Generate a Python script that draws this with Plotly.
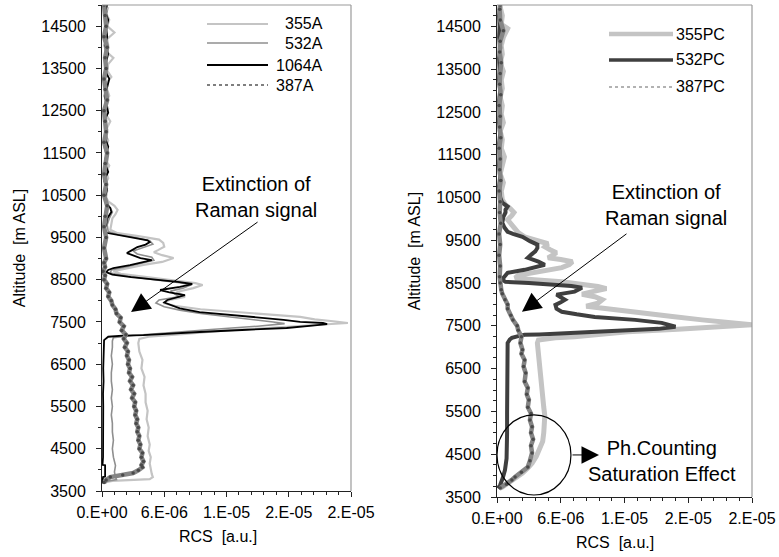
import numpy as np
import plotly.graph_objects as go

# ---------------- DATA (RCS values in units of 1e-6 a.u., altitude in m ASL) ----------------
A355_alt = [3690, 3740, 3780, 3830, 3900, 4000, 4150, 4300, 4450, 4600, 4800, 5000, 5200, 5400, 5600,
            5800, 6000, 6200, 6400, 6600, 6800, 7000, 7100, 7150, 7180, 7220, 7300, 7380, 7440, 7475,
            7510, 7560, 7620, 7680, 7735, 7800, 7880, 7950, 8020, 8090, 8150, 8210, 8300, 8375, 8420,
            8480, 8560, 8640, 8700, 8780, 8850, 8920, 9013, 9080, 9150, 9200, 9280, 9370, 9450, 9530,
            9600, 9680, 9800, 9950, 10050, 10150, 10250, 10350, 10450, 10600, 10750, 10900, 11050, 11200,
            11350, 11500, 11650, 11800, 11950, 12100, 12250, 12400, 12550, 12700, 12850, 13000, 13150,
            13300, 13450, 13600, 13750, 13900, 14050, 14200, 14350, 14500, 14650, 14800, 14950]
A355_val = [0.0, 1.0, 4.6, 4.9, 4.8, 4.7, 4.6, 4.7, 4.5, 4.6, 4.4, 4.5, 4.3, 4.4, 4.2,
            4.2, 4.0, 4.1, 3.8, 3.9, 3.6, 3.5, 3.6, 4.5, 6.5, 8.0, 12.0, 17.5, 22.0, 23.7,
            22.5, 20.5, 19.1, 16.0, 12.6, 9.5, 7.0, 5.9, 6.5, 8.0, 7.6, 7.2, 8.8, 9.7, 9.0,
            7.0, 4.0, 1.8, 1.1, 2.5, 4.0, 5.8, 6.9, 5.8, 5.0, 5.4, 6.0, 5.9, 5.5, 3.5,
            1.5, 0.8, 0.9, 1.0, 1.3, 1.5, 1.2, 0.6, 0.4, 0.5, 0.3, 0.6, 0.4, 0.7,
            0.3, 0.5, 0.4, 0.6, 0.3, 0.5, 0.8, 0.4, 0.6, 0.3, 0.7, 0.5, 0.4,
            0.9, 0.5, 0.6, 1.1, 0.4, 0.6, 0.5, 1.2, 0.5, 0.7, 0.4, 0.6]

A532_alt = [3690, 3730, 3770, 3830, 3950, 4100, 4300, 4500, 4700, 4900, 5100, 5300, 5500, 5700, 5900,
            6100, 6300, 6500, 6700, 6900, 7050, 7130, 7180, 7240, 7320, 7400, 7460, 7500, 7560, 7630,
            7700, 7780, 7860, 7950, 8020, 8100, 8160, 8230, 8300, 8380, 8430, 8500, 8580, 8660, 8730,
            8800, 8880, 8960, 9030, 9110, 9180, 9260, 9340, 9420, 9500, 9570, 9640, 9800, 9950, 10100,
            10200, 10300, 10450, 10650, 10850, 11050, 11250, 11450, 11650, 11850, 12050, 12250, 12450,
            12650, 12850, 13050, 13250, 13450, 13650, 13850, 14050, 14250, 14450, 14650, 14850, 15000]
A532_val = [0.0, 0.5, 1.4, 1.3, 1.2, 1.3, 1.1, 1.0, 1.1, 1.0, 1.0, 0.9, 1.0, 0.9, 1.0,
            0.9, 0.9, 1.0, 0.9, 1.0, 1.0, 1.1, 3.0, 6.0, 10.5, 15.0, 17.6, 16.5, 14.5, 12.0,
            9.5, 7.5, 6.0, 5.2, 5.5, 7.5, 7.0, 6.6, 7.8, 8.6, 7.5, 5.0, 2.5, 0.8, 0.9,
            2.3, 3.8, 5.0, 4.8, 3.4, 3.0, 4.0, 4.9, 4.6, 3.2, 1.5, 0.6, 0.5, 0.7, 1.0,
            0.8, 0.5, 0.3, 0.4, 0.2, 0.5, 0.3, 0.4, 0.2, 0.5, 0.3, 0.4, 0.3,
            0.5, 0.2, 0.4, 0.3, 0.5, 0.3, 0.4, 0.2, 0.5, 0.4, 0.3, 0.5, 0.3]

A1064_alt = [3690, 3720, 3830, 3840, 4110, 4120, 4300, 4600, 4900, 5200, 5500, 5800, 6100, 6400, 6700,
             7000, 7070, 7150, 7175, 7190, 7230, 7262, 7310, 7357, 7420, 7450, 7475, 7500, 7550, 7590,
             7660, 7735, 7820, 7900, 7960, 8020, 8080, 8137, 8200, 8256, 8330, 8398, 8450, 8500, 8560,
             8620, 8680, 8730, 8776, 8847, 8910, 8965, 9013, 9070, 9130, 9200, 9273, 9330, 9390, 9430,
             9462, 9510, 9557, 9610, 9680, 9800, 9950, 10100, 10200, 10300, 10450, 10650, 10850, 11050,
             11250, 11450, 11650, 11850, 12050, 12250, 12450, 12650, 12850, 13050, 13250, 13450, 13650,
             13850, 14050, 14250, 14450, 14650, 14850, 15000]
A1064_val = [0.0, 0.05, 0.1, 0.3, 0.3, 0.05, 0.1, 0.12, 0.1, 0.15, 0.12, 0.1, 0.15, 0.12, 0.15,
             0.2, 0.2, 0.6, 2.0, 4.0, 6.5, 9.4, 13.5, 17.8, 20.5, 21.7, 21.3, 19.1, 17.5, 15.9,
             12.5, 9.4, 7.5, 6.6, 6.0, 6.3, 7.2, 8.0, 6.5, 5.6, 7.5, 8.7, 7.3, 5.0, 2.8,
             1.0, 0.4, 0.6, 1.1, 2.7, 3.8, 4.8, 3.7, 3.0, 2.4, 2.9, 3.4, 4.2, 4.6, 4.4,
             3.7, 2.5, 1.4, 0.4, 0.2, 0.4, 0.5, 0.9, 0.8, 0.4, 0.3, 0.5, 0.2, 0.6,
             0.3, 0.4, 0.6, 0.3, 0.5, 0.2, 0.6, 0.4, 0.3, 0.5, 0.7, 0.3, 0.4,
             0.6, 0.3, 0.5, 0.4, 0.6, 0.3, 0.5]

A387_alt = [3700, 3760, 3830, 3880, 3925, 3990, 4060, 4115, 4200, 4300, 4400, 4500, 4600, 4700, 4800,
            4900, 5000, 5100, 5200, 5300, 5400, 5500, 5600, 5700, 5800, 5900, 6000, 6100, 6200, 6300,
            6400, 6500, 6600, 6700, 6800, 6900, 7000, 7100, 7200, 7300, 7400, 7500, 7600, 7700, 7800,
            7900, 8000, 8100, 8200, 8300, 8400, 8500, 8600, 8700, 8800, 8900, 9000, 9250, 9500, 9750,
            10000, 10250, 10500, 10750, 11000, 11250, 11500, 11750, 12000, 12250, 12500, 12750, 13000,
            13250, 13500, 13750, 14000, 14250, 14500, 14750, 15000]
A387_val = [0.2, 0.4, 0.8, 2.0, 3.0, 3.5, 3.9, 3.8, 4.0, 3.8, 3.9, 3.6, 3.7, 3.5, 3.6,
            3.4, 3.5, 3.3, 3.4, 3.2, 3.3, 3.1, 3.2, 2.9, 3.1, 2.8, 3.0, 2.7, 2.9, 2.6,
            2.7, 2.5, 2.6, 2.4, 2.5, 2.2, 2.4, 2.1, 2.3, 1.9, 2.1, 1.7, 1.8, 1.4, 1.3,
            1.0, 0.9, 0.6, 0.7, 0.4, 0.5, 0.2, 0.3, 0.1, 0.3, 0.2, 0.4, 0.2, 0.4, 0.2,
            0.3, 0.5, 0.2, 0.4, 0.2, 0.3, 0.5, 0.2, 0.4, 0.3, 0.2, 0.5, 0.3,
            0.2, 0.4, 0.3, 0.5, 0.2, 0.4, 0.3, 0.2]

PC355_alt = [3700, 3735, 3850, 3950, 4060, 4180, 4290, 4450, 4600, 4800, 5000, 5230, 5400, 5600, 5840,
             6000, 6200, 6470, 6700, 6940, 7100, 7170, 7220, 7245, 7300, 7360, 7420, 7480, 7525, 7560,
             7600, 7640, 7720, 7800, 7860, 7920, 7960, 8030, 8110, 8180, 8240, 8300, 8370, 8420, 8480,
             8530, 8580, 8620, 8680, 8740, 8800, 8860, 8930, 9000, 9050, 9090, 9150, 9210, 9280, 9350,
             9420, 9500, 9580, 9680, 9800, 9900, 9980, 10080, 10150, 10230, 10330, 10450, 10650, 10850,
             11050, 11250, 11450, 11650, 11850, 12050, 12250, 12450, 12650, 12850, 13050, 13250, 13450,
             13650, 13850, 14050, 14250, 14450, 14550, 14750, 14950]
PC355_val = [0.2, 0.5, 1.2, 1.8, 2.4, 2.9, 3.3, 3.7, 4.0, 4.3, 4.4, 4.5, 4.5, 4.4, 4.3,
             4.2, 4.1, 4.0, 3.9, 3.8, 3.8, 3.9, 5.5, 7.3, 10.0, 12.3, 17.0, 21.5, 24.0, 22.5,
             20.5, 19.3, 16.5, 13.6, 11.0, 9.2, 8.4, 9.5, 9.9, 9.2, 8.0, 9.0, 10.3, 9.5, 7.8,
             6.1, 3.5, 1.7, 2.0, 3.3, 4.8, 6.1, 6.8, 7.1, 6.0, 4.8, 5.2, 5.6, 5.0, 4.5,
             4.8, 3.5, 2.6, 2.0, 1.6, 1.2, 1.0, 1.4, 1.6, 1.3, 0.8, 0.5, 0.4, 0.6,
             0.3, 0.5, 0.7, 0.4, 0.5, 0.3, 0.6, 0.4, 0.5, 0.3, 0.5, 0.4, 0.6,
             0.3, 0.5, 0.4, 0.6, 1.0, 0.4, 0.5, 0.3]

PC532_alt = [3700, 3780, 3950, 4130, 4400, 4670, 5000, 5465, 5800, 6240, 6600, 6870, 7000, 7100, 7180,
             7220, 7260, 7290, 7300, 7320, 7360, 7430, 7480, 7530, 7570, 7640, 7710, 7770, 7830, 7900,
             7990, 8050, 8110, 8170, 8230, 8300, 8390, 8430, 8460, 8500, 8530, 8580, 8620, 8700, 8740,
             8810, 8880, 8930, 9000, 9050, 9090, 9160, 9240, 9320, 9400, 9480, 9580, 9650, 9700, 9800,
             9910, 10050, 10150, 10215, 10290, 10380, 10500, 10750, 11000, 11250, 11500, 11750, 12000,
             12250, 12500, 12750, 13000, 13250, 13500, 13750, 14000, 14250, 14500, 14750, 15000]
PC532_val = [0.1, 0.3, 0.55, 0.75, 0.9, 0.95, 0.95, 0.95, 0.95, 0.95, 0.95, 0.95, 1.0, 1.0, 1.2,
             1.4, 2.0, 2.6, 4.0, 6.0, 9.9, 15.2, 16.8, 16.0, 15.5, 13.0, 9.2, 7.5, 6.1, 5.6,
             5.5, 6.0, 6.4, 6.0, 5.6, 7.3, 8.0, 7.0, 5.6, 3.0, 0.8, 0.5, 0.6, 0.8, 1.0,
             2.6, 3.6, 4.5, 3.9, 3.3, 2.9, 3.2, 3.6, 3.8, 3.8, 3.1, 2.4, 1.5, 1.0, 0.7,
             0.5, 0.6, 0.8, 0.8, 1.0, 0.5, 0.3, 0.2, 0.3, 0.2, 0.25, 0.2, 0.3,
             0.2, 0.25, 0.2, 0.3, 0.2, 0.25, 0.2, 0.3, 0.2, 0.25, 0.2, 0.3]

PC387_alt = [3710, 3800, 3900, 3970, 4080, 4200, 4350, 4530, 4700, 4850, 5000, 5140, 5300, 5450, 5600,
             5770, 5900, 6050, 6200, 6400, 6550, 6700, 6850, 6940, 7100, 7245, 7400, 7500, 7640, 7750,
             7900, 8000, 8110, 8250, 8345, 8500, 8650, 8900, 9150, 9400, 9650, 9900, 10150, 10400, 10650,
             10900, 11150, 11400, 11650, 11900, 12150, 12400, 12650, 12900, 13150, 13400, 13650, 13900,
             14150, 14400, 14650, 14900, 15000]
PC387_val = [0.3, 0.9, 1.4, 1.7, 2.3, 2.9, 3.1, 3.3, 3.2, 3.4, 3.2, 3.3, 3.1, 3.2, 2.9,
             3.0, 2.8, 2.9, 2.6, 2.7, 2.5, 2.6, 2.3, 2.4, 2.2, 2.3, 2.0, 1.9, 1.5, 1.3,
             1.0, 1.0, 0.75, 0.5, 0.4, 0.3, 0.25, 0.3, 0.2, 0.3, 0.2, 0.35, 0.25, 0.3, 0.2,
             0.35, 0.25, 0.3, 0.2, 0.35, 0.25, 0.3, 0.2, 0.35, 0.25, 0.3, 0.4, 0.25,
             0.3, 0.6, 0.3, 0.25, 0.3]

x_tickvals = [0, 6e-6, 1.2e-5, 1.8e-5, 2.4e-5]
x_ticktext = ["0.E+00", "6.E-06", "1.E-05", "2.E-05", "2.E-05"]
UNIT = 1e-6

# ---------------- FIGURE ----------------
W, H = 779, 557
FONT = "Liberation Sans, Arial, sans-serif"

def px(x):
    return x / W

def py(y):
    return 1 - y / H

fig = go.Figure()

def add(xv, yv, name, color, width, xa, ya, markers=False):
    kw = dict(x=np.array(xv) * UNIT, y=yv, name=name, xaxis=xa, yaxis=ya,
              showlegend=False, hoverinfo="skip")
    if markers:
        fig.add_trace(go.Scatter(mode="lines+markers",
                                 line=dict(color=color, width=width),
                                 marker=dict(size=3.5, color="#4a4a4a", symbol="circle"), **kw))
    else:
        fig.add_trace(go.Scatter(mode="lines", line=dict(color=color, width=width), **kw))

# Left panel (analog)
add(A355_val, A355_alt, "355A", "#c4c4c4", 2.2, "x", "y")
add(A532_val, A532_alt, "532A", "#8f8f8f", 1.6, "x", "y")
add(A1064_val, A1064_alt, "1064A", "#000000", 1.8, "x", "y")
add(A387_val, A387_alt, "387A", "#858585", 4.5, "x", "y", markers=True)
# Right panel (photon counting)
add(PC355_val, PC355_alt, "355PC", "#c4c4c4", 5, "x2", "y2")
add(PC532_val, PC532_alt, "532PC", "#3f3f3f", 4, "x2", "y2")
add(PC387_val, PC387_alt, "387PC", "#858585", 4.5, "x2", "y2", markers=True)

L_dom = [px(102), px(351)]
L_ydom = [py(491), py(5)]
R_dom = [px(497), px(752)]
R_ydom = [py(497), py(5)]

xcommon = dict(range=[0, 2.4e-5], tickvals=x_tickvals, ticktext=x_ticktext, ticks="outside",
               ticklen=5, tickcolor="#222", showline=True, linecolor="#222", linewidth=1,
               showgrid=False, zeroline=False, tickfont=dict(family=FONT, size=16, color="#000"),
               ticklabelstandoff=2, automargin=False,
               minor=dict(dtick=1.2e-6, tick0=0, ticks="outside", ticklen=3, tickcolor="#222"))
ycommon = dict(range=[3500, 15000], tick0=3500, dtick=1000, tickformat="d", ticks="outside", ticklen=5,
               tickcolor="#222", showline=True, linecolor="#222", linewidth=1, showgrid=False,
               zeroline=False, tickfont=dict(family=FONT, size=16, color="#000"),
               ticklabelstandoff=7, automargin=False,
               title=dict(text="Altitude  [m ASL]", standoff=11,
                          font=dict(family=FONT, size=16, color="#000")))

fig.update_layout(
    width=W, height=H, margin=dict(l=0, r=0, t=0, b=0, autoexpand=False),
    paper_bgcolor="white", plot_bgcolor="white", showlegend=False,
    xaxis=dict(domain=L_dom, anchor="y", **xcommon),
    yaxis=dict(domain=L_ydom, anchor="x",
               minor=dict(dtick=500, tick0=3500, ticks="outside", ticklen=3, tickcolor="#222"),
               **ycommon),
    xaxis2=dict(domain=R_dom, anchor="y2", **xcommon),
    yaxis2=dict(domain=R_ydom, anchor="x2",
                minor=dict(dtick=250, tick0=3500, ticks="outside", ticklen=3, tickcolor="#222"),
                **ycommon),
)

shapes = []
# gray frame (top and right borders)
for dom, ydom in ((L_dom, L_ydom), (R_dom, R_ydom)):
    shapes.append(dict(type="line", xref="paper", yref="paper", x0=dom[0], x1=dom[1], y0=ydom[1], y1=ydom[1],
                       line=dict(color="#9a9a9a", width=1.2)))
    shapes.append(dict(type="line", xref="paper", yref="paper", x0=dom[1], x1=dom[1], y0=ydom[0], y1=ydom[1],
                       line=dict(color="#9a9a9a", width=1.2)))

annotations = []

def text(x, y, s, size=16, anchor="left"):
    annotations.append(dict(xref="paper", yref="paper", x=px(x), y=py(y), text=s, showarrow=False,
                            xanchor=anchor, yanchor="middle",
                            font=dict(family=FONT, size=size, color="#000")))

# manual legends
leg_left = [("355A", "#c4c4c4", 2.2, "solid", 24, 283),
            ("532A", "#8f8f8f", 1.6, "solid", 43, 283),
            ("1064A", "#000000", 1.8, "solid", 65, 274),
            ("387A", "#555555", 1.3, "dot", 85, 274)]
for name, col, w, dash, yy, tx in leg_left:
    shapes.append(dict(type="line", xref="paper", yref="paper", x0=px(207), x1=px(268), y0=py(yy), y1=py(yy),
                       line=dict(color=col, width=w, dash=dash)))
    text(tx, yy, name, 16)

leg_right = [("355PC", "#c4c4c4", 4.5, "solid", 34),
             ("532PC", "#3f3f3f", 3.5, "solid", 60),
             ("387PC", "#666666", 1.2, "dot", 87)]
for name, col, w, dash, yy in leg_right:
    shapes.append(dict(type="line", xref="paper", yref="paper", x0=px(609), x1=px(673), y0=py(yy), y1=py(yy),
                       line=dict(color=col, width=w, dash=dash)))
    text(674, yy, name, 16)

# x axis titles
text(218, 536, "RCS  [a.u.]", 16, "center")
text(615, 542, "RCS  [a.u.]", 16, "center")

# callouts
text(256, 197, "Extinction of<br>Raman signal", 20, "center")
text(666, 205, "Extinction of<br>Raman signal", 20, "center")
text(662, 461, "Ph.Counting<br>Saturation Effect", 20, "center")

annotations.append(dict(xref="x", yref="y", x=2.8e-6, y=7735, ax=128, ay=-91, text="", showarrow=True,
                        arrowhead=2, arrowsize=3.8, arrowwidth=1, arrowcolor="#000"))
annotations.append(dict(xref="x2", yref="y2", x=2.35e-6, y=7830, ax=106, ay=-79, text="", showarrow=True,
                        arrowhead=2, arrowsize=3.8, arrowwidth=1, arrowcolor="#000"))
annotations.append(dict(xref="x2", yref="y2", x=9.6e-6, y=4483, ax=-28, ay=0, text="", showarrow=True,
                        arrowhead=2, arrowsize=3.5, arrowwidth=1, arrowcolor="#000"))

# saturation circle
shapes.append(dict(type="circle", xref="x2", yref="y2", x0=0.0, x1=6.96e-6, y0=3547, y1=5419,
                   line=dict(color="#000", width=1.2)))

fig.update_layout(shapes=shapes, annotations=annotations)
fig.write_html("out.html")
